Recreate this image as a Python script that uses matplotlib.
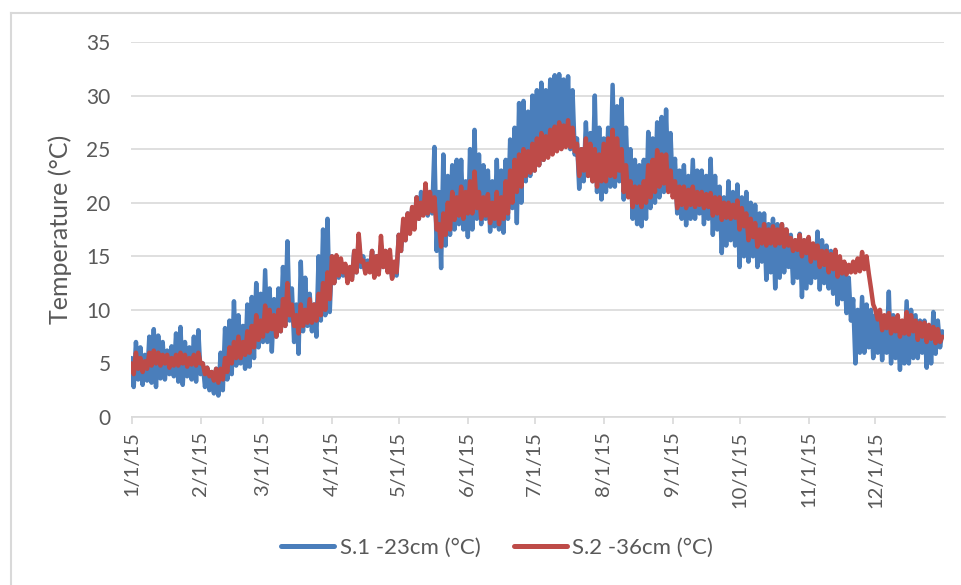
import numpy as np
import matplotlib
matplotlib.use("Agg")
import matplotlib.pyplot as plt
from matplotlib.lines import Line2D

# Soil temperature logged at two depths during 2015 (one value per day,
# alternating between the day's high and low reading)
start_date = np.datetime64("2015-01-01")
step_days = 1

s1_23cm = [
    5.5, 2.8, 7.0, 3.5, 6.5, 3.0, 5.8, 3.4, 7.5, 3.2, 8.2, 2.8, 7.6, 3.6, 7.0, 3.5,
    6.2, 4.0, 6.6, 3.8, 7.8, 3.3, 8.4, 3.0, 7.0, 3.8, 6.5, 3.5, 7.5, 3.3, 8.1, 4.0,
    5.0, 2.8, 4.6, 2.5, 4.2, 2.2, 4.5, 2.0, 6.0, 2.5, 8.3, 3.5, 9.0, 4.0, 10.8, 4.8,
    9.5, 5.0, 8.5, 4.5, 10.5, 4.7, 11.2, 5.5, 12.5, 6.5, 11.5, 7.0, 13.7, 7.0, 12.0, 6.1,
    11.0, 7.5, 12.0, 8.0, 14.0, 8.5, 16.4, 9.0, 12.0, 7.0, 10.5, 5.9, 14.5, 8.0, 13.0, 8.5,
    11.5, 8.0, 10.5, 7.5, 15.0, 9.0, 17.5, 9.5, 18.5, 9.8, 15.0, 12.5, 14.5, 13.0, 14.2, 13.2,
    14.0, 12.8, 13.8, 13.0, 15.5, 13.5, 16.5, 14.0, 15.0, 13.5, 14.6, 13.6, 15.5, 13.3, 15.0, 13.5,
    16.0, 14.0, 15.5, 13.8, 14.5, 13.0, 14.0, 13.2, 17.0, 15.5, 18.0, 16.5, 19.0, 17.5, 19.5, 18.0,
    20.5, 18.5, 21.0, 19.0, 21.5, 18.8, 21.0, 19.0, 25.2, 15.5, 21.0, 13.9, 24.5, 16.0, 22.5, 17.0,
    23.5, 17.5, 24.0, 18.0, 24.0, 17.5, 22.0, 16.8, 25.0, 17.5, 26.8, 18.5, 24.5, 18.0, 23.5, 18.5,
    23.0, 17.3, 22.0, 17.8, 24.0, 17.5, 23.0, 17.2, 24.0, 18.5, 25.9, 19.5, 27.0, 18.1, 29.3, 20.0,
    29.5, 22.0, 28.5, 22.5, 30.0, 23.0, 30.5, 23.5, 31.2, 24.0, 30.5, 24.5, 31.5, 25.0, 31.9, 25.5,
    32.0, 25.2, 31.5, 25.5, 31.8, 25.0, 30.5, 24.5, 26.0, 21.3, 25.0, 22.0, 27.5, 22.5, 26.5, 22.0,
    30.0, 21.0, 27.0, 20.3, 26.0, 21.0, 27.0, 21.5, 31.0, 21.5, 29.0, 22.0, 29.7, 20.3, 27.0, 21.0,
    25.0, 18.5, 24.0, 18.0, 23.5, 17.8, 24.0, 18.5, 26.6, 19.5, 26.0, 20.0, 27.5, 20.5, 28.0, 21.0,
    28.7, 21.5, 26.5, 21.0, 24.1, 19.0, 23.0, 18.5, 23.5, 17.9, 22.5, 18.5, 24.0, 18.5, 23.0, 19.0,
    23.0, 18.0, 22.5, 18.5, 24.1, 17.0, 22.5, 17.5, 21.5, 15.3, 20.5, 16.0, 22.0, 16.5, 21.0, 16.0,
    21.7, 14.0, 20.5, 15.0, 21.0, 14.5, 20.0, 15.0, 19.8, 14.0, 19.0, 14.5, 19.0, 12.8, 18.0, 13.5,
    18.5, 12.0, 18.0, 13.0, 18.0, 13.5, 17.5, 14.0, 17.0, 12.5, 16.5, 13.0, 17.1, 11.2, 16.5, 12.0,
    16.5, 12.5, 16.0, 13.0, 17.3, 11.9, 16.5, 12.5, 16.0, 12.0, 15.5, 11.5, 15.0, 10.5, 14.5, 11.0,
    14.0, 9.7, 13.0, 9.0, 11.0, 5.0, 10.0, 6.0, 11.2, 6.0, 10.5, 6.5, 10.0, 5.5, 9.5, 6.0,
    9.5, 5.3, 9.0, 6.0, 11.7, 5.0, 9.5, 5.5, 9.0, 4.4, 8.5, 5.0, 10.8, 5.0, 10.0, 5.5,
    9.5, 5.5, 9.0, 6.0, 9.0, 4.6, 8.5, 5.0, 9.8, 5.9, 9.0, 6.5, 8.0,
]

s2_36cm = [
    5.0, 4.0, 6.0, 4.5, 5.5, 4.2, 5.2, 4.5, 6.0, 4.8, 6.2, 5.0, 6.0, 4.8, 5.8, 5.0,
    5.8, 4.6, 5.5, 4.8, 5.8, 4.8, 6.0, 5.0, 5.8, 4.7, 5.5, 4.9, 5.8, 4.8, 6.0, 5.0,
    5.0, 4.0, 4.6, 3.8, 4.2, 3.4, 4.5, 3.2, 4.5, 3.5, 5.5, 4.2, 6.5, 5.0, 7.0, 5.5,
    7.5, 5.5, 7.0, 5.8, 8.0, 6.0, 8.5, 6.5, 9.5, 7.2, 9.0, 7.5, 10.4, 8.0, 10.0, 8.2,
    9.5, 7.5, 10.0, 8.0, 11.0, 8.5, 12.5, 9.5, 10.5, 8.5, 9.5, 7.8, 10.5, 8.5, 10.0, 8.8,
    11.0, 8.8, 10.5, 9.0, 11.5, 9.5, 12.5, 10.0, 13.5, 11.0, 15.0, 12.5, 15.1, 13.2, 14.8, 13.5,
    14.3, 12.5, 14.0, 12.8, 15.5, 13.5, 17.1, 14.5, 14.6, 13.4, 14.3, 13.5, 15.5, 13.0, 15.0, 13.3,
    16.9, 14.0, 15.5, 13.5, 15.6, 12.9, 14.5, 13.5, 17.0, 15.5, 18.5, 16.5, 19.0, 17.1, 19.6, 17.5,
    20.5, 18.5, 20.0, 18.8, 21.8, 19.0, 21.0, 19.2, 20.5, 17.5, 18.0, 15.9, 19.0, 17.0, 20.0, 17.5,
    21.0, 18.4, 20.5, 18.8, 21.5, 18.5, 21.0, 19.0, 22.0, 19.0, 22.9, 19.5, 21.0, 18.5, 20.5, 18.8,
    20.8, 18.1, 20.0, 18.5, 21.0, 18.0, 20.5, 18.5, 22.0, 19.0, 23.0, 20.0, 24.0, 21.0, 24.5, 21.5,
    25.0, 22.5, 24.8, 22.8, 25.5, 23.0, 26.0, 23.5, 26.5, 24.0, 26.2, 24.2, 26.8, 24.5, 27.1, 24.8,
    27.5, 25.0, 27.2, 25.2, 27.7, 25.2, 27.0, 24.8, 25.5, 22.5, 25.0, 23.0, 26.0, 22.5, 25.5, 22.0,
    25.0, 21.5, 24.5, 22.0, 25.5, 22.0, 26.0, 22.5, 26.8, 22.4, 26.0, 23.0, 25.0, 21.0, 23.5, 20.5,
    22.0, 19.6, 21.5, 20.0, 21.5, 19.6, 22.0, 20.0, 23.5, 20.5, 24.0, 21.0, 24.9, 21.5, 24.5, 21.8,
    24.5, 21.0, 23.0, 20.5, 22.0, 19.5, 21.5, 19.8, 21.5, 19.5, 21.2, 19.8, 21.5, 19.6, 21.0, 19.8,
    21.0, 19.5, 20.8, 19.6, 20.9, 18.8, 20.5, 19.0, 20.5, 18.4, 20.0, 18.6, 20.0, 18.5, 19.8, 18.6,
    20.2, 17.5, 19.5, 17.8, 19.0, 16.5, 18.5, 16.8, 18.1, 15.9, 17.5, 16.2, 18.0, 16.0, 17.5, 16.2,
    17.8, 16.0, 17.5, 16.2, 18.0, 15.9, 17.5, 16.0, 16.7, 15.5, 16.5, 15.6, 17.0, 15.0, 16.5, 15.3,
    16.8, 14.5, 16.2, 14.8, 16.0, 14.0, 15.5, 14.2, 15.5, 13.5, 15.2, 13.8, 15.6, 13.1, 15.0, 13.4,
    14.5, 13.3, 14.2, 13.5, 14.5, 13.5, 14.8, 13.6, 15.4, 13.8, 15.0, 13.4, 12.0, 10.5, 10.0, 9.1,
    10.0, 8.1, 9.5, 8.3, 9.7, 7.8, 9.2, 8.0, 9.5, 7.5, 9.0, 7.8, 9.8, 7.7, 9.5, 8.0,
    9.0, 7.2, 8.8, 7.5, 8.8, 7.0, 8.6, 7.3, 8.4, 6.9, 8.2, 7.0, 7.5,
]

series_names = ["S.1 -23cm (°C)", "S.2 -36cm (°C)"]
series_colors = ["#4A7EBB", "#BE4B48"]

month_starts = np.arange("2015-01", "2016-01", dtype="datetime64[M]").astype("datetime64[D]")
month_labels = ["1/1/15", "2/1/15", "3/1/15", "4/1/15", "5/1/15", "6/1/15",
                "7/1/15", "8/1/15", "9/1/15", "10/1/15", "11/1/15", "12/1/15"]
y_ticks = [0, 5, 10, 15, 20, 25, 30, 35]

plt.rcParams["font.family"] = ["Lato", "DejaVu Sans"]
text_color = "#595959"
grid_color = "#D9D9D9"

fig = plt.figure(figsize=(9.62, 5.85), dpi=100)
ax = fig.add_axes([131.5 / 962, 1 - 417 / 585, 813 / 962, 375 / 585])

for values, name, color in zip([s1_23cm, s2_36cm], series_names, series_colors):
    dates = start_date + np.arange(len(values)) * step_days
    ax.plot(dates, values, color=color, lw=3.2, solid_joinstyle="round",
            solid_capstyle="round", label=name)

ax.set_xlim(start_date, np.datetime64("2016-01-01"))
ax.set_ylim(0, 35)
ax.set_yticks(y_ticks)
ax.set_xticks(month_starts)
ax.set_xticklabels(month_labels, rotation=90)

ax.grid(axis="y", color=grid_color, lw=1.2)
ax.set_axisbelow(True)
for side in ["top", "right", "left"]:
    ax.spines[side].set_visible(False)
ax.spines["bottom"].set_color(grid_color)
ax.spines["bottom"].set_linewidth(1.2)

ax.tick_params(axis="y", length=0, pad=15, labelsize=15, labelcolor=text_color)
ax.tick_params(axis="x", length=5, width=1.2, color=grid_color, pad=5,
               labelsize=14.5, labelcolor=text_color)

ax.set_ylabel("Temperature (°C)", fontsize=18, color=text_color)
ax.yaxis.set_label_coords(-0.0735, 0.5)

leg = fig.legend(loc="center", bbox_to_anchor=(497 / 962, 1 - 548 / 585), ncol=2,
                 frameon=False, fontsize=16, handlelength=2.4, handletextpad=0.25,
                 columnspacing=1.5)
for line in leg.get_lines():
    line.set_linewidth(3.6)
    line.set_solid_capstyle("round")
for txt in leg.get_texts():
    txt.set_color(text_color)

# chart-area border
fig.add_artist(Line2D([10.5 / 962, 10.5 / 962], [0, 1 - 12.5 / 585],
                      transform=fig.transFigure, color=grid_color, lw=1.5))
fig.add_artist(Line2D([10.5 / 962, 1], [1 - 12.5 / 585, 1 - 12.5 / 585],
                      transform=fig.transFigure, color=grid_color, lw=1.5))

fig.savefig("out.png", dpi=100, facecolor="white")
